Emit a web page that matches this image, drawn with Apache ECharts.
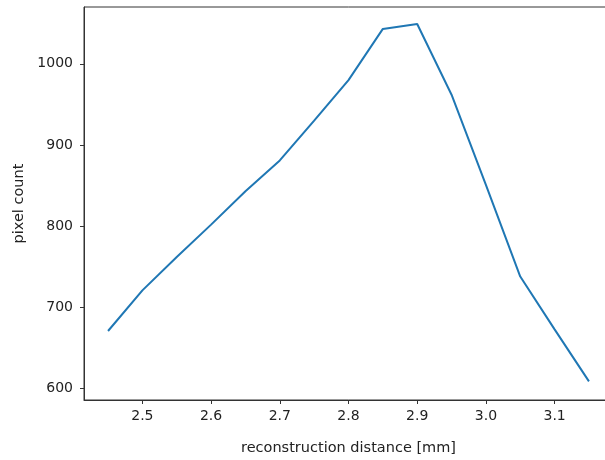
<!DOCTYPE html>
<html>
<head>
<meta charset="utf-8">
<script src="https://cdn.jsdelivr.net/npm/echarts@6/dist/echarts.min.js"></script>
<style>
html,body{margin:0;padding:0;background:#fff;overflow:hidden;width:605px;height:460px;}
#c{width:640px;height:460px;}
</style>
</head>
<body>
<div id="c"></div>
<script>
// Data
const distances = [2.45, 2.50, 2.55, 2.60, 2.65, 2.70, 2.75, 2.80, 2.85, 2.90, 2.95, 3.00, 3.05, 3.10, 3.15];
const pixelCounts = [671, 721, 762, 802, 843, 881, 930, 980, 1043, 1049, 962, 851, 738, 673, 609];
const xTicks = [2.5, 2.6, 2.7, 2.8, 2.9, 3.0, 3.1];
const yTicks = [600, 700, 800, 900, 1000];

const chart = echarts.init(document.getElementById('c'), null, {renderer: 'canvas'});
const font = 'DejaVu Sans';
chart.setOption({
  backgroundColor: '#fff',
  animation: false,
  grid: {left: 84, top: 7, width: 529, height: 393, outerBoundsMode: 'none', containLabel: false,
         show: true, borderColor: '#333', borderWidth: 1, backgroundColor: 'transparent'},
  xAxis: {
    type: 'value', min: 2.415, max: 3.185,
    name: 'reconstruction distance [mm]', nameLocation: 'middle', nameGap: 41,
    nameTextStyle: {fontFamily: font, fontSize: 14.5, color: '#222'},
    axisLine: {show: true, onZero: false, lineStyle: {color: '#333', width: 1}},
    axisTick: {show: true, length: 4, customValues: xTicks, lineStyle: {color: '#333'}},
    axisLabel: {customValues: xTicks, formatter: v => v.toFixed(1), fontFamily: font, fontSize: 14, color: '#222', margin: 9},
    splitLine: {show: false}
  },
  yAxis: {
    type: 'value', min: 586, max: 1070,
    name: 'pixel count', nameLocation: 'middle', nameGap: 56, nameRotate: 90,
    nameTextStyle: {fontFamily: font, fontSize: 14.5, color: '#222'},
    axisLine: {show: true, onZero: false, lineStyle: {color: '#333', width: 1}},
    axisTick: {show: true, length: 4, customValues: yTicks, lineStyle: {color: '#333'}},
    axisLabel: {customValues: yTicks, formatter: v => String(v), fontFamily: font, fontSize: 14, color: '#222', margin: 11},
    splitLine: {show: false}
  },
  series: [{
    type: 'line',
    data: distances.map((d, i) => [d, pixelCounts[i]]),
    showSymbol: false,
    lineStyle: {color: '#1f77b4', width: 2},
    itemStyle: {color: '#1f77b4'}
  }]
});
</script>
</body>
</html>
